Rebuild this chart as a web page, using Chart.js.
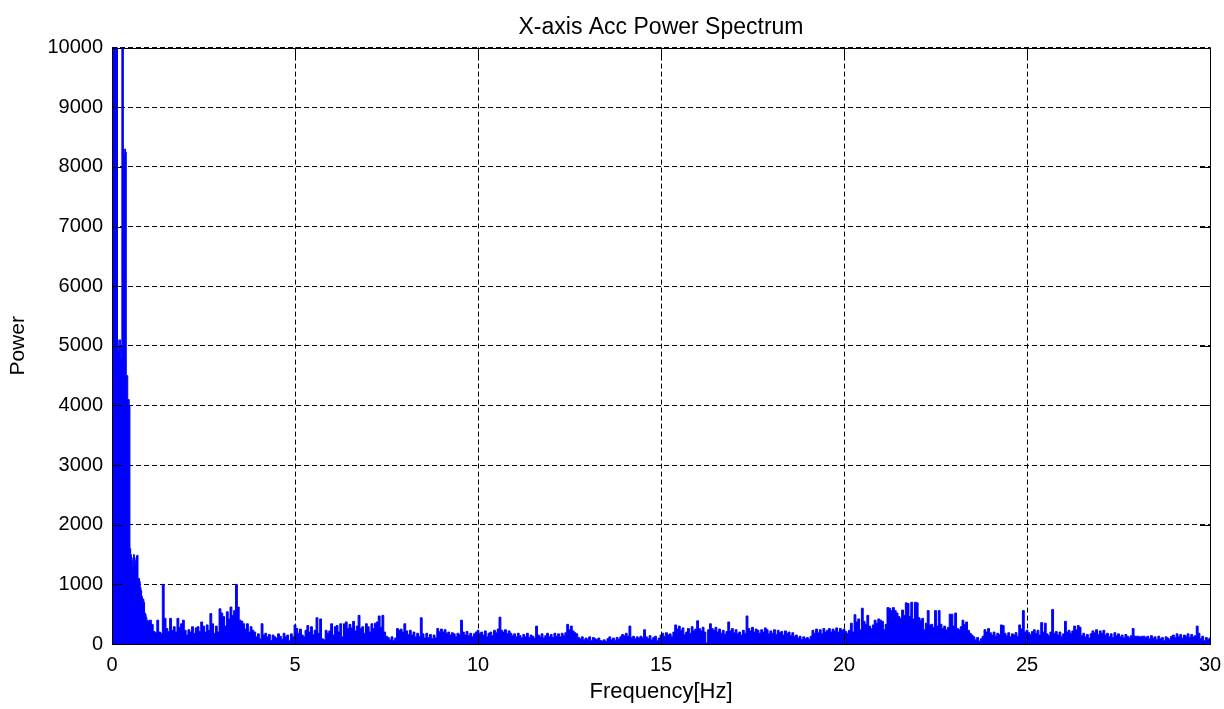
<!DOCTYPE html>
<html>
<head>
<meta charset="utf-8">
<script src="https://cdn.jsdelivr.net/npm/chart.js@4/dist/chart.umd.min.js"></script>
<style>
html,body{margin:0;padding:0;background:#fff;}
#wrap{width:1224px;height:709px;}
</style>
</head>
<body>
<div id="wrap"><canvas id="chart" width="1224" height="709"></canvas></div>
<script>
// power, 0-1 Hz every 0.02 Hz, then 1-30 Hz every 0.05 Hz
const lowStart=0, lowStep=0.02;
const powerLow=[300,10500,10500,10500,10500,10500,10500,10500,5100,4900,
  5000,5100,4800,5000,10500,10500,8300,8200,8300,8250,
  4500,4500,4100,4100,4000,1600,1500,1450,1400,1300,
  1500,1450,1400,1350,1480,1490,1100,1100,1050,950,
  900,800,760,750,700,520,500,450,400,400];
const bandStep=0.05;
const power1to5=[380,400,330,210,190,400,200,180,1000,430,260,210,430,230,290,200,430,280,340,400,
  230,150,240,200,290,180,270,290,210,370,300,200,320,230,510,340,180,300,200,590,
  520,460,300,540,420,620,480,560,1000,620,400,380,340,250,340,200,290,230,200,120,
  170,90,340,150,180,120,160,60,150,120,100,170,130,80,180,120,150,60,170,120];
const power5to10=[320,260,180,250,150,120,230,310,200,290,160,230,440,180,420,90,70,230,180,220,
  340,150,290,310,200,340,120,340,370,260,330,270,380,220,300,480,260,290,180,340,
  290,200,340,260,350,370,470,280,480,200,130,110,70,120,60,100,260,230,250,200,
  340,220,160,230,150,200,120,180,130,440,170,100,180,110,160,90,150,100,260,210,
  250,200,240,180,200,150,190,170,120,180,160,400,200,150,210,140,180,120,170,200];
const power10to15=[230,180,200,150,220,120,180,200,140,230,190,250,450,230,200,240,170,220,180,140,
  170,120,180,140,100,160,120,180,110,150,130,100,300,150,120,170,100,140,180,120,
  160,110,180,130,170,120,180,140,190,330,240,300,220,190,170,110,90,120,70,100,
  80,120,60,110,90,70,100,60,50,70,40,90,120,70,100,60,110,80,120,160,
  140,180,130,300,110,130,90,120,100,130,110,240,120,90,140,70,110,130,60,100];
const power15to20=[150,180,130,190,150,170,120,200,320,250,300,230,270,160,200,260,180,290,220,250,
  390,260,220,280,200,20,240,340,260,230,280,200,250,180,230,160,210,370,220,260,
  190,240,170,200,150,230,180,470,260,220,280,200,250,230,180,240,200,270,240,170,
  220,180,240,160,230,190,210,150,220,180,200,140,190,130,150,100,130,70,120,90,
  110,80,130,230,180,250,190,240,170,260,200,230,260,200,250,220,270,200,260,230];
const power20to25=[250,210,180,230,350,200,490,370,420,240,600,380,330,480,300,260,320,400,350,420,
  400,380,240,330,610,600,560,610,560,520,460,430,570,480,690,680,460,700,420,700,
  690,440,400,430,240,350,560,320,330,280,560,300,560,330,260,300,240,280,500,500,
  300,520,260,240,290,400,330,370,230,180,150,120,70,110,50,90,130,240,200,260,
  190,150,200,130,180,160,320,310,180,140,190,120,170,150,190,130,320,250,560,200];
const power25to30=[230,190,160,210,240,180,230,150,360,200,350,170,140,200,580,180,210,150,200,130,
  170,380,200,230,180,220,300,240,310,280,140,180,120,160,100,170,220,190,240,160,
  220,180,230,150,180,120,170,110,190,140,170,120,150,100,160,130,110,140,260,130,
  130,130,120,130,130,110,130,90,140,100,120,70,130,90,110,60,120,100,80,130,
  150,110,170,120,160,100,150,130,170,110,160,120,140,300,180,90,130,60,110,80,100];
const xTicks=[0,5,10,15,20,25,30];

function pts(start,step,vals){
  return vals.map((v,i)=>({x:+(start+i*step).toFixed(2),y:v}));
}
const spectrum=[].concat(
  pts(lowStart,lowStep,powerLow),
  pts(1,bandStep,power1to5),
  pts(5,bandStep,power5to10),
  pts(10,bandStep,power10to15),
  pts(15,bandStep,power15to20),
  pts(20,bandStep,power20to25),
  pts(25,bandStep,power25to30)
);

// matlab style box with inward ticks
const boxTicks={
  id:'boxTicks',
  afterDatasetsDraw(chart){
    const {ctx,chartArea:a,scales:{x,y}}=chart;
    const len=10;
    ctx.save();
    ctx.strokeStyle='#000';ctx.lineWidth=1;ctx.setLineDash([]);
    ctx.beginPath();
    x.ticks.forEach(t=>{
      const px=Math.round(x.getPixelForValue(t.value))+0.5;
      ctx.moveTo(px,a.bottom);ctx.lineTo(px,a.bottom-len);
      ctx.moveTo(px,a.top);ctx.lineTo(px,a.top+len);
    });
    y.ticks.forEach(t=>{
      const py=Math.round(y.getPixelForValue(t.value))+0.5;
      ctx.moveTo(a.left,py);ctx.lineTo(a.left+len,py);
      ctx.moveTo(a.right,py);ctx.lineTo(a.right-len,py);
    });
    ctx.stroke();
    ctx.strokeRect(Math.round(a.left)+0.5,Math.round(a.top)+0.5,Math.round(a.right-a.left),Math.round(a.bottom-a.top));
    ctx.restore();
  }
};

Chart.defaults.font.family="'Liberation Sans', Arial, sans-serif";
Chart.defaults.color='#000';

new Chart(document.getElementById('chart').getContext('2d'),{
  type:'line',
  data:{datasets:[{
    data:spectrum,
    borderColor:'#0000ff',backgroundColor:'#0000ff',
    borderWidth:1,pointRadius:0,fill:'origin',stepped:'middle'
  }]},
  options:{
    responsive:false,animation:false,
    layout:{padding:{top:0,right:0,bottom:0,left:0}},
    plugins:{
      legend:{display:false},tooltip:{enabled:false},
      title:{display:true,text:'X-axis Acc Power Spectrum',fullSize:false,
        font:{size:23,weight:'normal'},padding:{top:14,bottom:6}}
    },
    scales:{
      x:{type:'linear',min:0,max:30,
        afterBuildTicks:s=>{s.ticks=xTicks.map(v=>({value:v}));},
        afterFit:s=>{s.height=65;s.paddingLeft=0;s.paddingRight=14;},
        ticks:{font:{size:20},padding:9,maxRotation:0,callback:v=>String(v)},
        grid:{color:'#000',drawTicks:false},
        border:{display:false,dash:[5,3]},
        title:{display:true,text:'Frequency[Hz]',font:{size:22},padding:{top:0,bottom:4}}
      },
      y:{min:0,max:10000,
        afterFit:s=>{s.width=112;},
        ticks:{stepSize:1000,font:{size:20},padding:9,callback:v=>String(v)},
        grid:{color:'#000',drawTicks:false},
        border:{display:false,dash:[5,3]},
        title:{display:true,text:'Power',font:{size:21},padding:{top:6,bottom:0}}
      }
    }
  },
  plugins:[boxTicks]
});
</script>
</body>
</html>
